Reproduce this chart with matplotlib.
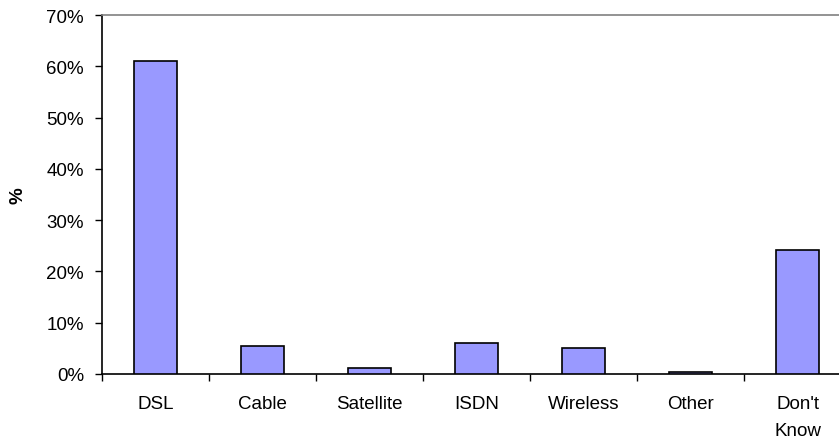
import matplotlib
matplotlib.use("Agg")
import matplotlib.pyplot as plt
from matplotlib.ticker import FuncFormatter, FixedLocator

# ----------------------------
# Data
# ----------------------------
categories = ["DSL", "Cable", "Satellite", "ISDN", "Wireless", "Other", "Don't\nKnow"]
values = [61.0, 5.4, 1.1, 6.0, 5.0, 0.3, 24.1]

plt.rcParams['font.family'] = ['Liberation Sans', 'DejaVu Sans']
FS = 13.5

fig = plt.figure(figsize=(8.39, 4.39), dpi=100)
ax = fig.add_axes([102 / 839, 1 - 375 / 439, 749 / 839, 359 / 439])

x = list(range(len(categories)))
ax.bar(x, values, width=0.4, color='#9999FF', edgecolor='black', linewidth=1.2, zorder=3)

ax.set_xlim(-0.5, len(categories) - 0.5)
ax.set_ylim(0, 70)
ax.set_yticks(range(0, 71, 10))
ax.yaxis.set_major_formatter(FuncFormatter(lambda v, p: f"{int(v)}%"))

# category labels centered, tick marks between categories
ax.set_xticks(x)
ax.set_xticklabels(categories, fontsize=FS, linespacing=1.75, va='top')
ax.tick_params(axis='x', which='major', length=0, pad=15)
ax.xaxis.set_minor_locator(FixedLocator([i - 0.5 for i in range(len(categories) + 1)]))
ax.tick_params(axis='x', which='minor', length=5, width=1, color='black')
ax.tick_params(axis='y', length=5, width=1, labelsize=FS, pad=8)

ax.spines['left'].set_color('black')
ax.spines['left'].set_linewidth(1.2)
ax.spines['bottom'].set_color('black')
ax.spines['bottom'].set_linewidth(1.2)
ax.spines['top'].set_color('#808080')
ax.spines['top'].set_linewidth(1.2)
ax.spines['right'].set_visible(False)

ax.set_ylabel('%', fontsize=FS, fontweight='bold', labelpad=14)

fig.savefig("out.png", dpi=100)
